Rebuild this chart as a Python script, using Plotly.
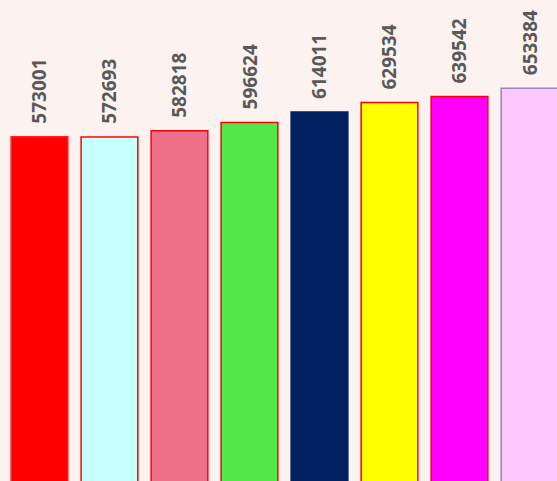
import plotly.graph_objects as go

categories = ["A", "B", "C", "D", "E", "F", "G", "H"]
values = [573001, 572693, 582818, 596624, 614011, 629534, 639542, 653384]
fill_colors = ["#ff0000", "#c8ffff", "#f0708a", "#52e84a", "#002060", "#ffff00", "#ff00ff", "#fcc8fc"]
line_colors = ["#ff2020", "#ff0000", "#ff0000", "#ff0000", "#002060", "#ff0000", "#ff0000", "#9e80c0"]

fig = go.Figure()
fig.add_trace(go.Bar(
    x=categories, y=values,
    marker=dict(color=fill_colors, line=dict(color=line_colors, width=1.5)),
    width=0.81,
))

for c, v in zip(categories, values):
    fig.add_annotation(
        x=c, y=v, text=f"<b>{v}</b>", textangle=-90,
        showarrow=False, yanchor="bottom", xanchor="center", yshift=11,
        font=dict(family="Open Sans", size=19, color="#595959"),
    )

fig.update_layout(
    width=557, height=481,
    margin=dict(l=0, r=0, t=0, b=0),
    paper_bgcolor="#fcf3f0", plot_bgcolor="#fcf3f0",
    showlegend=False,
    xaxis=dict(range=[-0.564, 7.393], visible=False),
    yaxis=dict(range=[2000, 799710], visible=False),
)

fig.write_html(
    "out.html",
    config={"displayModeBar": False},
    post_script="document.body.style.margin='0';document.body.style.background='#fcf3f0';",
)
